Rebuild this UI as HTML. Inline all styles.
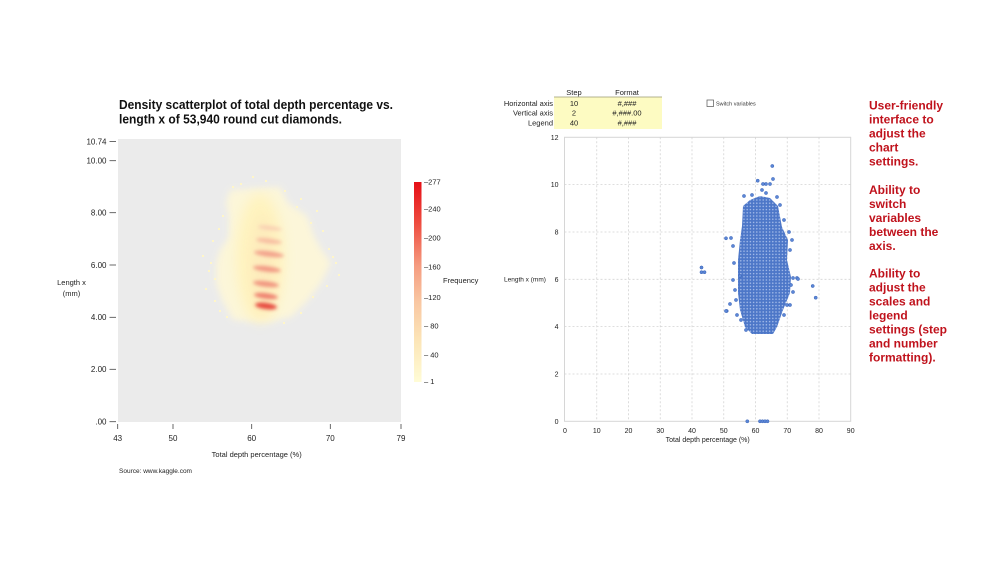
<!DOCTYPE html>
<html><head><meta charset="utf-8"><style>
html,body{margin:0;padding:0;background:#fff;}
svg{display:block;font-family:"Liberation Sans",sans-serif;}
</style></head><body>
<svg width="1005" height="565" viewBox="0 0 1005 565" xmlns="http://www.w3.org/2000/svg">
<defs>
<filter id="b3" x="-30%" y="-30%" width="160%" height="160%"><feGaussianBlur stdDeviation="3.5"/></filter>
<filter id="b5" x="-50%" y="-50%" width="200%" height="200%"><feGaussianBlur stdDeviation="6"/></filter>
<filter id="b1" x="-50%" y="-100%" width="200%" height="300%"><feGaussianBlur stdDeviation="1.8"/></filter>
<linearGradient id="cb" x1="0" y1="0" x2="0" y2="1">
<stop offset="0" stop-color="#e60f16"/>
<stop offset="0.2" stop-color="#ee4a3e"/>
<stop offset="0.42" stop-color="#f59c80"/>
<stop offset="0.6" stop-color="#f9c7a2"/>
<stop offset="0.8" stop-color="#fce6b8"/>
<stop offset="1" stop-color="#fffcd6"/>
</linearGradient>
<clipPath id="lp"><rect x="118" y="139" width="283" height="283"/></clipPath>
<pattern id="dots" width="3.2" height="3.2" patternUnits="userSpaceOnUse">
<rect width="3.2" height="3.2" fill="#4d77c8"/>
<circle cx="1.6" cy="1.6" r="0.75" fill="#a6bdea"/>
</pattern>
</defs>

<!-- LEFT CHART -->
<text x="119" y="109" font-size="13" font-weight="bold" fill="#111" textLength="274" lengthAdjust="spacingAndGlyphs">Density scatterplot of total depth percentage vs.</text>
<text x="119" y="123.5" font-size="13" font-weight="bold" fill="#111" textLength="223" lengthAdjust="spacingAndGlyphs">length x of 53,940 round cut diamonds.</text>

<rect x="118" y="139" width="283" height="283" fill="#ebebeb"/>
<g clip-path="url(#lp)">
<polygon points="230,190 280,187 288,203 307,216 314,236 321,249 331,263 321,283 308,300 291,317 270,322 233,320 222,300 216,283 216,263 220,250 229,237 229,217 226,203" fill="#fff8d6" opacity="0.85" filter="url(#b3)"/>
<ellipse cx="260" cy="258" rx="24" ry="64" fill="#fff3bc" opacity="0.9" filter="url(#b5)"/>
<ellipse cx="263" cy="265" rx="12" ry="50" fill="#fde9bc" opacity="0.8" filter="url(#b5)"/>
<g filter="url(#b1)">
<ellipse cx="270" cy="228" rx="12" ry="2.2" fill="#f8c4ae" opacity="0.7" transform="rotate(7 270 228)"/>
<ellipse cx="269" cy="241" rx="13" ry="2.5" fill="#f5ae98" opacity="0.75" transform="rotate(7 269 241)"/>
<ellipse cx="269" cy="254" rx="15" ry="2.8" fill="#f09080" opacity="0.8" transform="rotate(7 269 254)"/>
<ellipse cx="267" cy="269" rx="14" ry="2.8" fill="#ef8676" opacity="0.8" transform="rotate(7 267 269)"/>
<ellipse cx="266" cy="284" rx="13" ry="2.8" fill="#ee8070" opacity="0.8" transform="rotate(7 266 284)"/>
<ellipse cx="266" cy="296" rx="12" ry="2.8" fill="#ec6c60" opacity="0.85" transform="rotate(7 266 296)"/>
<ellipse cx="266" cy="306" rx="11" ry="3.2" fill="#e43a34" opacity="0.9" transform="rotate(7 266 306)"/>
</g>
<g fill="#fff6c8">
<rect x="212" y="240" width="2" height="2"/><rect x="208" y="270" width="2" height="2"/><rect x="214" y="300" width="2" height="2"/>
<rect x="335" y="262" width="2" height="2"/><rect x="328" y="248" width="2" height="2"/><rect x="322" y="230" width="2" height="2"/>
<rect x="300" y="198" width="2" height="2"/><rect x="240" y="183" width="2" height="2"/><rect x="265" y="180" width="2" height="2"/>
<rect x="222" y="215" width="2" height="2"/><rect x="218" y="228" width="2" height="2"/><rect x="312" y="296" width="2" height="2"/>
<rect x="300" y="312" width="2" height="2"/><rect x="226" y="316" width="2" height="2"/><rect x="205" y="288" width="2" height="2"/>
<rect x="338" y="274" width="2" height="2"/><rect x="316" y="210" width="2" height="2"/><rect x="252" y="176" width="2" height="2"/>
<rect x="202" y="255" width="2" height="2"/><rect x="326" y="285" width="2" height="2"/>
<rect x="232" y="186" width="2" height="2"/><rect x="284" y="190" width="2" height="2"/><rect x="310" y="222" width="2" height="2"/>
<rect x="210" y="262" width="2" height="2"/><rect x="219" y="310" width="2" height="2"/><rect x="283" y="322" width="2" height="2"/>
<rect x="332" y="256" width="2" height="2"/><rect x="296" y="206" width="2" height="2"/><rect x="214" y="278" width="2" height="2"/>
</g>
</g>

<!-- left y axis -->
<g font-size="8" fill="#222" text-anchor="end">
<text x="106.5" y="144.5">10.74</text>
<text x="106.5" y="163.5">10.00</text>
<text x="106.5" y="215.5">8.00</text>
<text x="106.5" y="268">6.00</text>
<text x="106.5" y="320">4.00</text>
<text x="106.5" y="372">2.00</text>
<text x="106.5" y="424.5">.00</text>
</g>
<g stroke="#444" stroke-width="0.8">
<line x1="109.5" y1="141.5" x2="116" y2="141.5"/>
<line x1="109.5" y1="160.7" x2="116" y2="160.7"/>
<line x1="109.5" y1="212.7" x2="116" y2="212.7"/>
<line x1="109.5" y1="265" x2="116" y2="265"/>
<line x1="109.5" y1="317.3" x2="116" y2="317.3"/>
<line x1="109.5" y1="369.3" x2="116" y2="369.3"/>
<line x1="109.5" y1="421.7" x2="116" y2="421.7"/>
</g>
<g font-size="7.5" fill="#222" text-anchor="middle">
<text x="71.5" y="285">Length x</text>
<text x="71.5" y="296">(mm)</text>
</g>

<!-- left x axis -->
<g stroke="#444" stroke-width="0.8">
<line x1="117.7" y1="424" x2="117.7" y2="429"/>
<line x1="173" y1="424" x2="173" y2="429"/>
<line x1="251.7" y1="424" x2="251.7" y2="429"/>
<line x1="330.3" y1="424" x2="330.3" y2="429"/>
<line x1="401" y1="424" x2="401" y2="429"/>
</g>
<g font-size="8" fill="#222" text-anchor="middle">
<text x="117.7" y="441">43</text>
<text x="173" y="441">50</text>
<text x="251.7" y="441">60</text>
<text x="330.3" y="441">70</text>
<text x="401" y="441">79</text>
</g>
<text x="256.7" y="457" font-size="7.5" fill="#222" text-anchor="middle">Total depth percentage (%)</text>
<text x="119" y="473" font-size="6.5" fill="#222">Source: www.kaggle.com</text>

<!-- colorbar -->
<rect x="414" y="182" width="7.5" height="200" fill="url(#cb)"/>
<g font-size="7.5" fill="#222">
<text x="424" y="184.5">–277</text>
<text x="424" y="211.5">–240</text>
<text x="424" y="240.5">–200</text>
<text x="424" y="269.5">–160</text>
<text x="424" y="300">–120</text>
<text x="424" y="328.5">– 80</text>
<text x="424" y="357.5">– 40</text>
<text x="424" y="384">– 1</text>
<text x="443" y="283">Frequency</text>
</g>

<!-- RIGHT CHART -->
<rect x="554" y="97" width="108" height="32" fill="#fdfbc2"/>
<line x1="554" y1="97" x2="662" y2="97" stroke="#9a9a70" stroke-width="0.8"/>
<g font-size="7.5" fill="#222">
<text x="574" y="95" text-anchor="middle">Step</text>
<text x="627" y="95" text-anchor="middle">Format</text>
<text x="553" y="106" text-anchor="end">Horizontal axis</text>
<text x="553" y="115.7" text-anchor="end">Vertical axis</text>
<text x="553" y="125.5" text-anchor="end">Legend</text>
<text x="574" y="106" text-anchor="middle">10</text>
<text x="574" y="115.7" text-anchor="middle">2</text>
<text x="574" y="125.5" text-anchor="middle">40</text>
<text x="627" y="106" text-anchor="middle">#,###</text>
<text x="627" y="115.7" text-anchor="middle">#,###.00</text>
<text x="627" y="125.5" text-anchor="middle">#,###</text>
</g>
<rect x="707" y="100" width="6.5" height="6.5" fill="#fff" stroke="#555" stroke-width="0.7"/>
<text x="716" y="105.5" font-size="5.5" fill="#333">Switch variables</text>

<rect x="564.5" y="137.3" width="286.2" height="284" fill="#fff" stroke="#d6d6d6" stroke-width="1"/>
<g stroke="#d4d4d4" stroke-width="0.8" stroke-dasharray="2,2">
<line x1="596.75" y1="137.3" x2="596.75" y2="421.3"/>
<line x1="628.5" y1="137.3" x2="628.5" y2="421.3"/>
<line x1="660.25" y1="137.3" x2="660.25" y2="421.3"/>
<line x1="692" y1="137.3" x2="692" y2="421.3"/>
<line x1="723.75" y1="137.3" x2="723.75" y2="421.3"/>
<line x1="755.5" y1="137.3" x2="755.5" y2="421.3"/>
<line x1="787.25" y1="137.3" x2="787.25" y2="421.3"/>
<line x1="819" y1="137.3" x2="819" y2="421.3"/>
<line x1="564.5" y1="184.6" x2="850.7" y2="184.6"/>
<line x1="564.5" y1="232" x2="850.7" y2="232"/>
<line x1="564.5" y1="279.3" x2="850.7" y2="279.3"/>
<line x1="564.5" y1="326.6" x2="850.7" y2="326.6"/>
<line x1="564.5" y1="374" x2="850.7" y2="374"/>
</g>
<g font-size="7" fill="#222" text-anchor="end">
<text x="558.5" y="140">12</text>
<text x="558.5" y="187">10</text>
<text x="558.5" y="234.5">8</text>
<text x="558.5" y="281.8">6</text>
<text x="558.5" y="329">4</text>
<text x="558.5" y="376.5">2</text>
<text x="558.5" y="423.8">0</text>
</g>
<g font-size="7" fill="#222" text-anchor="middle">
<text x="565" y="433">0</text>
<text x="596.75" y="433">10</text>
<text x="628.5" y="433">20</text>
<text x="660.25" y="433">30</text>
<text x="692" y="433">40</text>
<text x="723.75" y="433">50</text>
<text x="755.5" y="433">60</text>
<text x="787.25" y="433">70</text>
<text x="819" y="433">80</text>
<text x="850.7" y="433">90</text>
<text x="707.7" y="442">Total depth percentage (%)</text>
</g>
<text x="504" y="281.5" font-size="6.5" fill="#222">Length x (mm)</text>

<polygon points="750,200 743,206 742,226 740,240 738,260 738,277 738,293 740,310 745,327 752,334 773,334 777,327 783,310 790,293 791,277 787,260 788,240 782,227 778,206 770,198 760,196" fill="url(#dots)"/>
<g fill="#5b86d6" stroke="#3a64b8" stroke-width="0.5">
<circle cx="772.3" cy="166" r="1.6"/><circle cx="773" cy="179" r="1.6"/><circle cx="757.7" cy="180.7" r="1.6"/>
<circle cx="763" cy="184" r="1.6"/><circle cx="766" cy="184" r="1.6"/><circle cx="770" cy="184" r="1.6"/>
<circle cx="762" cy="190" r="1.6"/><circle cx="766" cy="193" r="1.6"/><circle cx="752" cy="195" r="1.6"/>
<circle cx="744" cy="196" r="1.6"/><circle cx="777" cy="197" r="1.6"/><circle cx="780" cy="205" r="1.6"/>
<circle cx="784" cy="220" r="1.6"/><circle cx="789" cy="232" r="1.6"/><circle cx="792" cy="240" r="1.6"/>
<circle cx="790" cy="250" r="1.6"/><circle cx="793" cy="278" r="1.6"/><circle cx="797" cy="278" r="1.6"/>
<circle cx="798" cy="279" r="1.6"/><circle cx="791" cy="285" r="1.6"/><circle cx="793" cy="292" r="1.6"/>
<circle cx="787" cy="305" r="1.6"/><circle cx="790" cy="305" r="1.6"/><circle cx="784" cy="315" r="1.6"/>
<circle cx="740" cy="276" r="1.6"/><circle cx="734" cy="263" r="1.6"/><circle cx="733" cy="280" r="1.6"/>
<circle cx="733" cy="246" r="1.6"/><circle cx="735" cy="290" r="1.6"/><circle cx="736" cy="300" r="1.6"/>
<circle cx="737" cy="315" r="1.6"/><circle cx="741" cy="320" r="1.6"/><circle cx="746" cy="330" r="1.6"/>
<circle cx="731" cy="238" r="1.6"/><circle cx="726" cy="238.3" r="1.6"/><circle cx="726.7" cy="311" r="1.6"/>
<circle cx="730" cy="304" r="1.6"/><circle cx="726" cy="311" r="1.6"/>
<circle cx="701.5" cy="267.5" r="1.6"/><circle cx="701.5" cy="272.2" r="1.6"/><circle cx="704.5" cy="272.2" r="1.6"/>
<circle cx="812.7" cy="286" r="1.6"/><circle cx="815.7" cy="297.7" r="1.6"/>
<circle cx="747.3" cy="421.3" r="1.6"/><circle cx="760" cy="421.3" r="1.6"/><circle cx="762.5" cy="421.3" r="1.6"/>
<circle cx="765" cy="421.3" r="1.6"/><circle cx="767.5" cy="421.3" r="1.6"/>
</g>

<g font-size="12" font-weight="bold" fill="#c0121c">
<text x="869" y="109.5">User-friendly</text>
<text x="869" y="123.5">interface to</text>
<text x="869" y="137.5">adjust the</text>
<text x="869" y="151.5">chart</text>
<text x="869" y="165.5">settings.</text>
<text x="869" y="194">Ability to</text>
<text x="869" y="208">switch</text>
<text x="869" y="222">variables</text>
<text x="869" y="236">between the</text>
<text x="869" y="250">axis.</text>
<text x="869" y="277.5">Ability to</text>
<text x="869" y="291.5">adjust the</text>
<text x="869" y="305.5">scales and</text>
<text x="869" y="319.5">legend</text>
<text x="869" y="333.5">settings (step</text>
<text x="869" y="347.5">and number</text>
<text x="869" y="361.5">formatting).</text>
</g>
</svg>
</body></html>
